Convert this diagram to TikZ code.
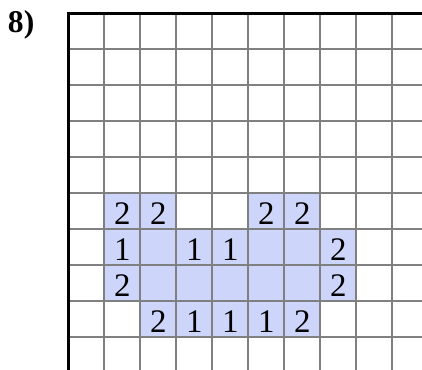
\documentclass[tikz,border=0pt]{standalone}
\usepackage{fontspec}
\setmainfont{Liberation Serif}
\definecolor{cellblue}{RGB}{205,213,250}
\tikzset{
  gridline/.style={draw=gray, line width=1.3pt},
  border/.style={draw=black, line width=2.3pt},
  filled/.style={fill=cellblue},
  num/.style={anchor=base, font=\fontsize{26}{26}\selectfont, inner sep=0pt},
}
\begin{document}
\begin{tikzpicture}
  \useasboundingbox (-1.897,0.369) rectangle (9.825,-9.908);

  % shaded cells
  \foreach \c/\r in {1/5,2/5,5/5,6/5,
                     1/6,2/6,3/6,4/6,5/6,6/6,7/6,
                     1/7,2/7,3/7,4/7,5/7,6/7,7/7,
                     2/8,3/8,4/8,5/8,6/8}
    \fill[filled] (\c,-\r) rectangle (\c+1,-\r-1);

  % grid
  \foreach \i in {1,...,9} {
    \draw[gridline] (0,-\i) -- (9.825,-\i);
    \draw[gridline] (\i,0) -- (\i,-9.908);
  }
  \draw[border] (9.825,0) -- (0,0) -- (0,-9.908);

  \node[anchor=base, font=\fontsize{25}{25}\selectfont\bfseries, inner sep=0pt] (lbl) at (-1.31,-0.52) {8)};

  % numbers
  \node[num] (a1) at (1.5,-5.88) {2};
  \node[num] (a2) at (2.5,-5.88) {2};
  \node[num] (a5) at (5.5,-5.88) {2};
  \node[num] (a6) at (6.5,-5.88) {2};
  \node[num] (b1) at (1.5,-6.88) {1};
  \node[num] (b3) at (3.5,-6.88) {1};
  \node[num] (b4) at (4.5,-6.88) {1};
  \node[num] (b7) at (7.5,-6.88) {2};
  \node[num] (c1) at (1.5,-7.88) {2};
  \node[num] (c7) at (7.5,-7.88) {2};
  \node[num] (d2) at (2.5,-8.88) {2};
  \node[num] (d3) at (3.5,-8.88) {1};
  \node[num] (d4) at (4.5,-8.88) {1};
  \node[num] (d5) at (5.5,-8.88) {1};
  \node[num] (d6) at (6.5,-8.88) {2};
\end{tikzpicture}
\end{document}
